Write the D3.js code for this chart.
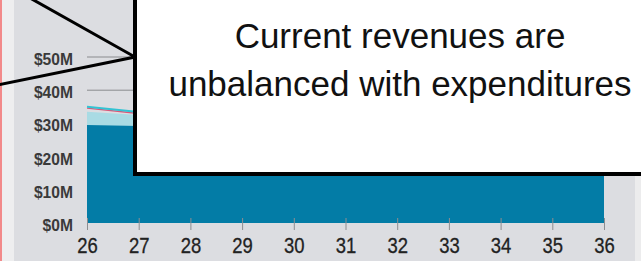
<!DOCTYPE html>
<html>
<head>
<meta charset="utf-8">
<script src="https://cdn.jsdelivr.net/npm/d3@7"></script>
<style>
  html, body { margin: 0; padding: 0; background: #dcdde1; overflow: hidden; }
  svg { display: block; }
</style>
</head>
<body>
<div id="chart"></div>
<script>
// fiscal years (20xx)
const years = [26, 27, 28, 29, 30, 31, 32, 33, 34, 35, 36];
// base revenue, $M (dark band)
const baseRevenue = [29.5, 29.2, 28.9, 28.7, 28.5, 28.3, 28.1, 27.9, 27.7, 27.5, 27.3];
// other revenue stacked on top, $M (light band)
const otherRevenue = [4.0, 3.3, 3.2, 3.1, 3.0, 2.9, 2.8, 2.7, 2.6, 2.5, 2.4];
// expenditure lines, $M
const redLine = [34.6, 33.0, 32.7, 32.5, 32.3, 32.1, 31.9, 31.7, 31.5, 31.3, 31.1];
const cyanLine = [35.0, 33.4, 33.1, 32.9, 32.7, 32.5, 32.3, 32.1, 31.9, 31.7, 31.5];
const yTicks = [0, 10, 20, 30, 40, 50];

const W = 641, H = 261;
const margin = { top: 57, right: 37, bottom: 38, left: 87 };

const svg = d3.select('#chart').append('svg')
    .attr('width', W)
    .attr('height', H);

// background strips
svg.append('rect').attr('x', 0).attr('y', 0).attr('width', W).attr('height', H).attr('fill', '#dcdde1');
svg.append('rect').attr('x', 0).attr('y', 0).attr('width', 14).attr('height', H).attr('fill', '#eeeeef');
svg.append('rect').attr('x', 635).attr('y', 0).attr('width', 6).attr('height', H).attr('fill', '#ececed');
svg.append('rect').attr('x', 0).attr('y', 0).attr('width', 2).attr('height', H).attr('fill', '#f28a8a');

const x = d3.scaleLinear()
    .domain([26, 36])
    .range([margin.left, W - margin.right]);

const y = d3.scaleLinear()
    .domain([0, 50])
    .range([H - margin.bottom, margin.top]);

// gridlines
svg.append('g')
    .selectAll('line')
    .data(yTicks.filter(d => d > 0))
    .enter().append('line')
    .attr('x1', x(26))
    .attr('x2', x(36))
    .attr('y1', d => y(d))
    .attr('y2', d => y(d))
    .attr('stroke', '#8a8b8e')
    .attr('stroke-width', 1);

const rows = years.map((yr, i) => ({
    yr,
    base: baseRevenue[i],
    top: baseRevenue[i] + otherRevenue[i],
    red: redLine[i],
    cyan: cyanLine[i]
}));

svg.append('path')
    .datum(rows)
    .attr('fill', '#a9dbe4')
    .attr('d', d3.area().x(d => x(d.yr)).y0(y(0)).y1(d => y(d.top)));

svg.append('path')
    .datum(rows)
    .attr('fill', '#037ca6')
    .attr('d', d3.area().x(d => x(d.yr)).y0(y(0)).y1(d => y(d.base)));

svg.append('path')
    .datum(rows)
    .attr('fill', 'none')
    .attr('stroke', '#d9587a')
    .attr('stroke-width', 1.5)
    .attr('d', d3.line().x(d => x(d.yr)).y(d => y(d.red)));

svg.append('path')
    .datum(rows)
    .attr('fill', 'none')
    .attr('stroke', '#33c3d3')
    .attr('stroke-width', 2)
    .attr('d', d3.line().x(d => x(d.yr)).y(d => y(d.cyan)));

// x axis, ticks cross the baseline
const xAxis = svg.append('g')
    .attr('transform', `translate(0,${y(0)})`)
    .call(d3.axisBottom(x).tickValues(years).tickFormat(d3.format('d')).tickSizeOuter(0));
xAxis.select('.domain').remove();
xAxis.selectAll('.tick line')
    .attr('y1', -5)
    .attr('y2', 7)
    .attr('stroke', '#8d8e91');
xAxis.selectAll('text')
    .attr('dy', 0)
    .attr('y', 30)
    .attr('fill', '#222')
    .attr('stroke', '#222')
    .attr('stroke-width', 0.3)
    .attr('transform', 'scale(0.84,1)')
    .style('font-family', '"Liberation Sans", Arial, sans-serif')
    .style('font-size', '22px');

// y axis
const yAxis = svg.append('g')
    .attr('transform', `translate(73,2)`)
    .call(d3.axisLeft(y).tickValues(yTicks).tickFormat(d => `$${d}M`).tickSize(0));
yAxis.select('.domain').remove();
yAxis.selectAll('text')
    .attr('x', 0)
    .attr('fill', '#3a3a3a')
    .attr('transform', 'scale(0.92,1)')
    .style('font-family', '"Liberation Sans", Arial, sans-serif')
    .style('font-weight', 'bold')
    .style('font-size', '17px');

// callout
svg.append('path')
    .attr('d', 'M30,-2 L135,57 L-2,85')
    .attr('fill', 'none')
    .attr('stroke', '#000')
    .attr('stroke-width', 3);

svg.append('rect')
    .attr('x', 135)
    .attr('y', -10)
    .attr('width', 520)
    .attr('height', 184)
    .attr('fill', '#fff')
    .attr('stroke', '#000')
    .attr('stroke-width', 4);

const note = svg.append('text')
    .attr('text-anchor', 'middle')
    .attr('fill', '#111')
    .style('font-family', '"Liberation Sans", Arial, sans-serif')
    .style('font-size', '35px');
note.append('tspan').attr('x', 400).attr('y', 48).text('Current revenues are');
note.append('tspan').attr('x', 400).attr('y', 96).text('unbalanced with expenditures');
</script>
</body>
</html>
